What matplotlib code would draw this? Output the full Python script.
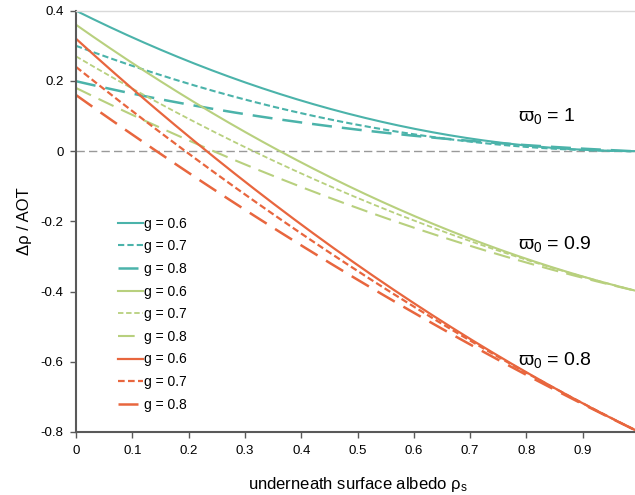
import numpy as np
import matplotlib
matplotlib.use("Agg")
import matplotlib.pyplot as plt

plt.rcParams['font.family'] = ['Liberation Sans', 'DejaVu Sans']
plt.rcParams['mathtext.fontset'] = 'custom'
plt.rcParams['mathtext.rm'] = 'Liberation Sans'
plt.rcParams['mathtext.it'] = 'Liberation Sans'
plt.rcParams['mathtext.default'] = 'regular'

# surface albedo
albedo = [0.0, 0.1, 0.2, 0.3, 0.4, 0.5, 0.6, 0.7, 0.8, 0.9, 1.0]

# omega0 = 1
w10_g06 = [0.40, 0.324, 0.256, 0.196, 0.144, 0.100, 0.064, 0.036, 0.016, 0.004, 0.0]
w10_g07 = [0.30, 0.243, 0.192, 0.147, 0.108, 0.075, 0.048, 0.027, 0.012, 0.003, 0.0]
w10_g08 = [0.20, 0.163, 0.132, 0.105, 0.082, 0.062, 0.045, 0.029, 0.016, 0.006, 0.0]
# omega0 = 0.9
w09_g06 = [0.36, 0.251, 0.149, 0.055, -0.032, -0.112, -0.184, -0.249, -0.307, -0.357, -0.40]
w09_g07 = [0.27, 0.178, 0.092, 0.012, -0.064, -0.133, -0.198, -0.256, -0.309, -0.358, -0.40]
w09_g08 = [0.18, 0.103, 0.031, -0.038, -0.102, -0.162, -0.218, -0.270, -0.317, -0.361, -0.40]
# omega0 = 0.8
w08_g06 = [0.32, 0.178, 0.042, -0.087, -0.209, -0.324, -0.433, -0.535, -0.630, -0.718, -0.80]
w08_g07 = [0.24, 0.114, -0.007, -0.123, -0.235, -0.341, -0.443, -0.539, -0.632, -0.718, -0.80]
w08_g08 = [0.16, 0.047, -0.062, -0.167, -0.268, -0.366, -0.460, -0.551, -0.638, -0.720, -0.80]

teal = '#4BB3AA'
green = '#B8D07E'
orange = '#E8663E'

fig = plt.figure(figsize=(6.35, 4.95), dpi=100)
# axes run a bit past the right edge, as in the original (the "1" is cut)
ax = fig.add_axes([76/635, 63/495, 563/635, 421.3/495])

def smooth(y):
    # cubic fit through the read-off points, for a smooth curve
    c = np.polyfit(albedo, y, 3)
    xs = np.linspace(0, 1, 200)
    return xs, np.polyval(c, xs)

series = [
    (w10_g06, teal, '-', 1.5, 'g = 0.6'),
    (w10_g07, teal, (0, (3, 1.5)), 1.5, 'g = 0.7'),
    (w10_g08, teal, (0, (8, 4)), 1.8, 'g = 0.8'),
    (w09_g06, green, '-', 1.5, 'g = 0.6'),
    (w09_g07, green, (0, (3, 1.5)), 1.3, 'g = 0.7'),
    (w09_g08, green, (0, (8, 4)), 1.5, 'g = 0.8'),
    (w08_g06, orange, '-', 1.6, 'g = 0.6'),
    (w08_g07, orange, (0, (3, 1.5)), 1.6, 'g = 0.7'),
    (w08_g08, orange, (0, (8, 4)), 1.8, 'g = 0.8'),
]
for y, col, ls, lw, lab in series:
    xs, ys = smooth(y)
    ax.plot(xs, ys, color=col, linestyle=ls, linewidth=lw, label=lab)

ax.axhline(0, color='#999999', linestyle=(0, (6, 3)), linewidth=1.0, zorder=0)

ax.set_xlim(0, 1)
ax.set_ylim(-0.8, 0.4)
ax.set_xticks([0, 0.1, 0.2, 0.3, 0.4, 0.5, 0.6, 0.7, 0.8, 0.9, 1.0])
ax.set_xticklabels(['0', '0.1', '0.2', '0.3', '0.4', '0.5', '0.6', '0.7', '0.8', '0.9', '1'])
ax.set_yticks([-0.8, -0.6, -0.4, -0.2, 0, 0.2, 0.4])
ax.set_yticklabels(['-0.8', '-0.6', '-0.4', '-0.2', '0', '0.2', '0.4'])
ax.tick_params(direction='out', length=4, width=1, color='#595959', labelsize=9.5, pad=5)

for s in ['left', 'bottom']:
    ax.spines[s].set_color('#595959')
    ax.spines[s].set_linewidth(1.5)
ax.spines['top'].set_color('#D9D9D9')
ax.spines['top'].set_linewidth(1.0)
ax.spines['right'].set_visible(False)

ax.set_ylabel('Δρ / AOT', fontsize=12, labelpad=6)
ax.set_xlabel(r'underneath surface albedo $\rho_s$', fontsize=12, labelpad=13)

ax.text(0.785, 0.1, r'$\varpi_0$ = 1', fontsize=14, va='center')
ax.text(0.785, -0.265, r'$\varpi_0$ = 0.9', fontsize=14, va='center')
ax.text(0.785, -0.595, r'$\varpi_0$ = 0.8', fontsize=14, va='center')

leg = ax.legend(loc='upper left', bbox_to_anchor=(0.0745, 0.511), frameon=False,
                fontsize=10, handlelength=1.8, handletextpad=0.1, labelspacing=0.62,
                borderaxespad=0, borderpad=0)

fig.savefig('out.png', dpi=100)
